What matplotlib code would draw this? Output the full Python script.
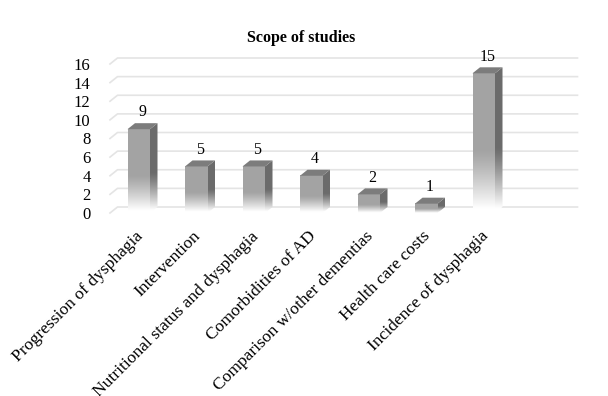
import numpy as np
import matplotlib.pyplot as plt
from matplotlib.patches import Polygon
from matplotlib.transforms import offset_copy

plt.rcParams["font.family"] = ["Liberation Serif", "DejaVu Serif"]

categories = [
    "Progression of dysphagia",
    "Intervention",
    "Nutritional status and dysphagia",
    "Comorbidities of AD",
    "Comparison w/other dementias",
    "Health care costs",
    "Incidence of dysphagia",
]
counts = [9, 5, 5, 4, 2, 1, 15]
y_ticks = [0, 2, 4, 6, 8, 10, 12, 14, 16]
n_slots = 8

W, H = 608, 396
fig = plt.figure(figsize=(W / 100, H / 100), dpi=100)

# plot area in pixels: x 110..570, y 213 (zero) .. 64 (16)
ax = fig.add_axes([110 / W, (H - 213) / H, 460 / W, 149 / H])
ax.set_xlim(0, n_slots)
ax.set_ylim(0, 16)

px_x = 460 / n_slots      # pixels per slot
px_y = 149 / 16           # pixels per count
dx = 7.5 / px_x           # depth of the fake 3d, in data units
dy = 6.0 / px_y
bar_w = 22.5 / px_x

# back wall gridlines with the little diagonal on the left
for v in y_ticks:
    ax.plot([0, dx, n_slots + dx], [v, v + dy, v + dy],
            color="#e4e4e4", lw=1.2, clip_on=False, zorder=1)

front_col = np.array([0.64, 0.64, 0.64])
side_col = np.array([0.42, 0.42, 0.42])
top_col = "#7c7c7c"


def fade(color, n=200):
    # solid on the upper part, fading to white towards the floor
    t = np.linspace(0, 1, n)[:, None]          # 0 = top, 1 = bottom
    k = np.clip((t - 0.55) / 0.42, 0, 1) ** 1.2
    rgb = color[None, :] * (1 - k) + 1.0 * k
    return np.repeat(rgb[:, None, :], 2, axis=1)


for i, c in enumerate(counts):
    x0 = i + 0.5 - bar_w / 2
    x1 = x0 + bar_w

    # front face
    ax.imshow(fade(front_col), extent=[x0, x1, 0, c], aspect="auto",
              interpolation="bilinear", zorder=3, clip_on=False)

    # side face
    side = Polygon([(x1, 0), (x1 + dx, dy), (x1 + dx, c + dy), (x1, c)],
                   closed=True, facecolor="none", edgecolor="none",
                   transform=ax.transData)
    ax.add_patch(side)
    im = ax.imshow(fade(side_col), extent=[x1, x1 + dx, 0, c + dy],
                   aspect="auto", interpolation="bilinear", zorder=3)
    im.set_clip_path(side)

    # top face
    ax.add_patch(Polygon([(x0, c), (x1, c), (x1 + dx, c + dy), (x0 + dx, c + dy)],
                         closed=True, facecolor=top_col, edgecolor="none",
                         zorder=4, clip_on=False))

    ax.text(i + 0.5 + dx / 2, c + dy + 0.3, str(c), ha="center", va="bottom",
            fontsize=11.5, zorder=5)

ax.set_xlim(0, n_slots)
ax.set_ylim(0, 16)

for s in ax.spines.values():
    s.set_visible(False)
ax.set_xticks([])
ax.set_yticks(y_ticks)
ax.tick_params(axis="y", length=0, pad=14, labelsize=12)

lab_tr = offset_copy(ax.transData, fig=fig, x=2, y=-21, units="dots")
for i, name in enumerate(categories):
    ax.text(i + 0.5, 0, name, transform=lab_tr, rotation=45,
            rotation_mode="anchor", ha="right", va="center", fontsize=12.6)

fig.text(301 / W, 1 - 38 / H, "Scope of studies", ha="center", va="center",
         fontsize=11.5, fontweight="bold")

fig.savefig("out.png", dpi=100)
